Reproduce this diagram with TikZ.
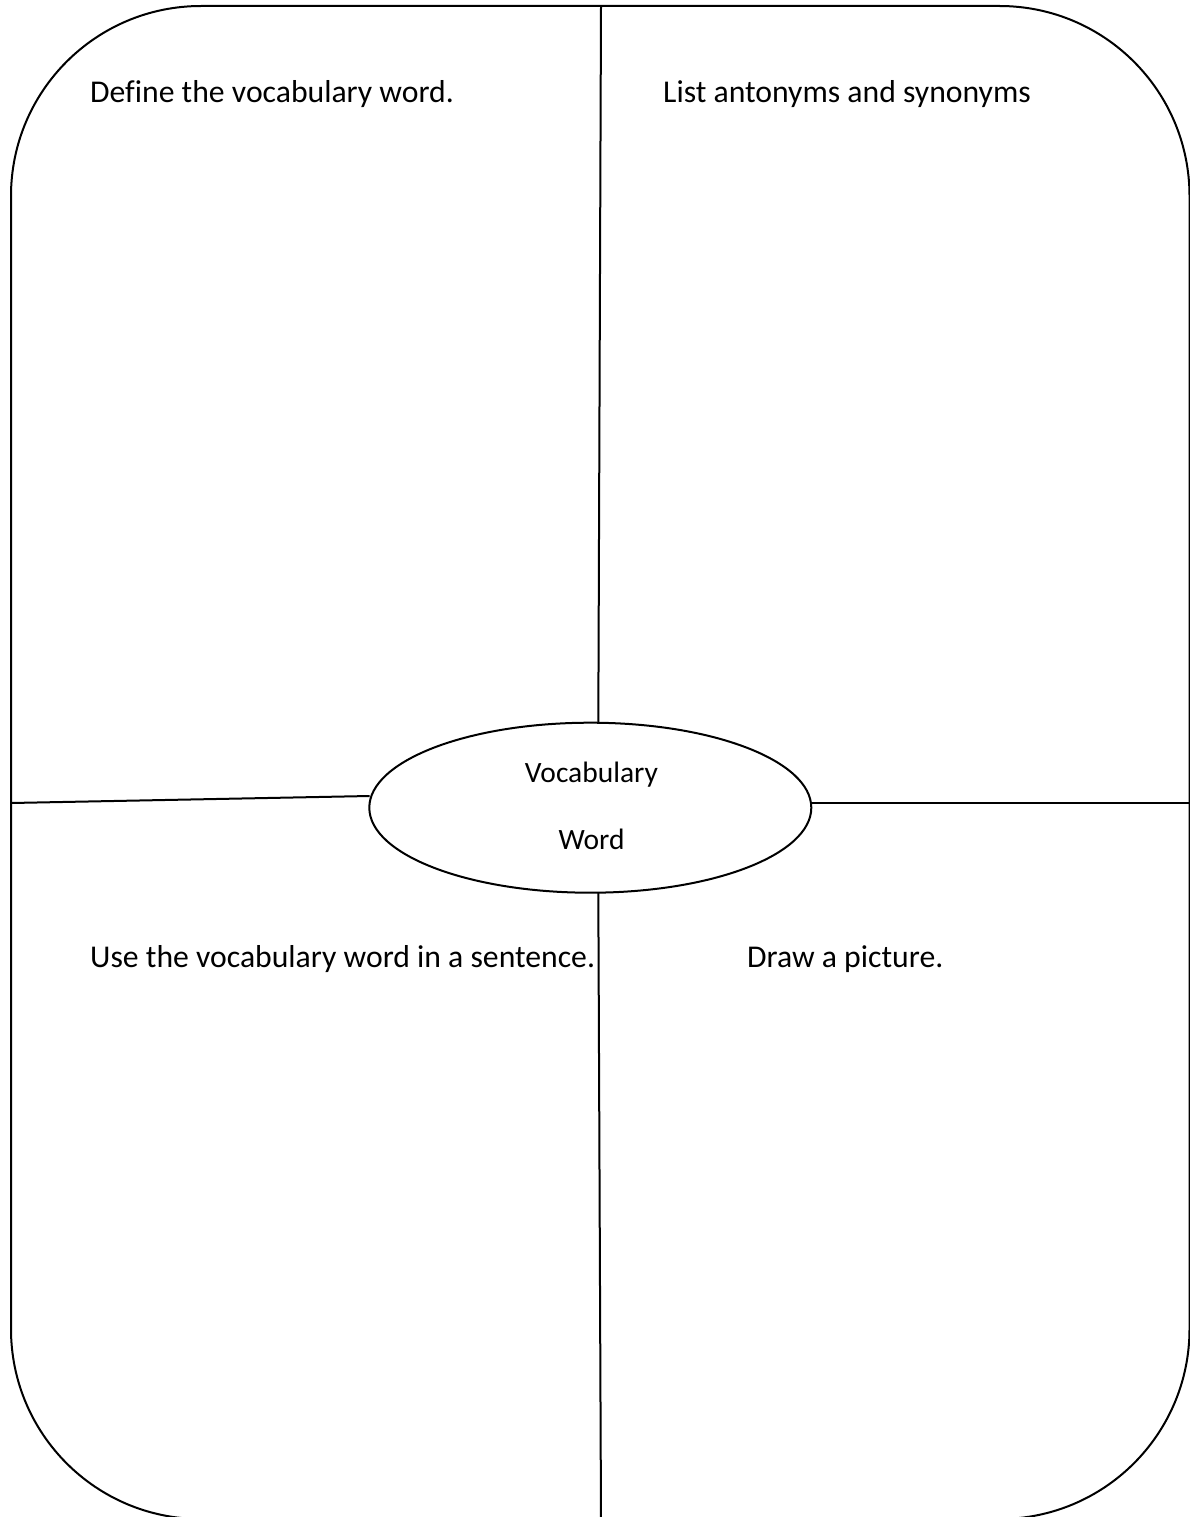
\documentclass[tikz,border=0pt]{standalone}
\usepackage{fontspec}
\setmainfont{Carlito}[Ligatures=NoCommon]
\usetikzlibrary{shapes.geometric}
\begin{document}
\begin{tikzpicture}[x=1pt,y=-1pt,
  frame/.style={draw=black,line width=2pt,rounded corners=190pt},
  divider/.style={draw=black,line width=2pt},
  hub/.style={ellipse,draw=black,line width=2pt,minimum width=442pt,minimum height=170pt,inner sep=0pt},
  prompt/.style={anchor=base west,inner sep=0pt,font=\fontsize{31.7}{36}\selectfont},
  hubtext/.style={anchor=base,inner sep=0pt,font=\fontsize{29.5}{34}\selectfont}]
\useasboundingbox (0,0) rectangle (1190,1517);
\fill[white] (0,0) rectangle (1190,1517);
% outer frame
\draw[frame] (11,6) rectangle (1189.5,1519);
% central ellipse
\node[hub] (ell) at (590.3,807.7) {};
\node[hubtext] (w1) at (591.5,782) {Vocabulary};
\node[hubtext] (w2) at (591.5,849) {Word};
% connector end points
\coordinate (topend) at (601,6);
\coordinate (topell) at (598.3,722.8);
\coordinate (botell) at (598.3,892.6);
\coordinate (botend) at (601,1520);
\coordinate (leftend) at (11,803);
\coordinate (leftell) at (369.6,796);
\coordinate (rightell) at (811.5,803.3);
\coordinate (rightend) at (1190,803.3);
\draw[divider] (topend) -- (topell);
\draw[divider] (botell) -- (botend);
\draw[divider] (leftend) -- (leftell);
\draw[divider] (rightell) -- (rightend);
% quadrant prompts
\node[prompt] (q1) at (90,103) {Define the vocabulary word.};
\node[prompt] (q2) at (663,103) {List antonyms and synonyms};
\node[prompt] (q3) at (90,967) {Use the vocabulary word in a sentence.};
\node[prompt] (q4) at (747,967) {Draw a picture.};
\end{tikzpicture}
\end{document}
